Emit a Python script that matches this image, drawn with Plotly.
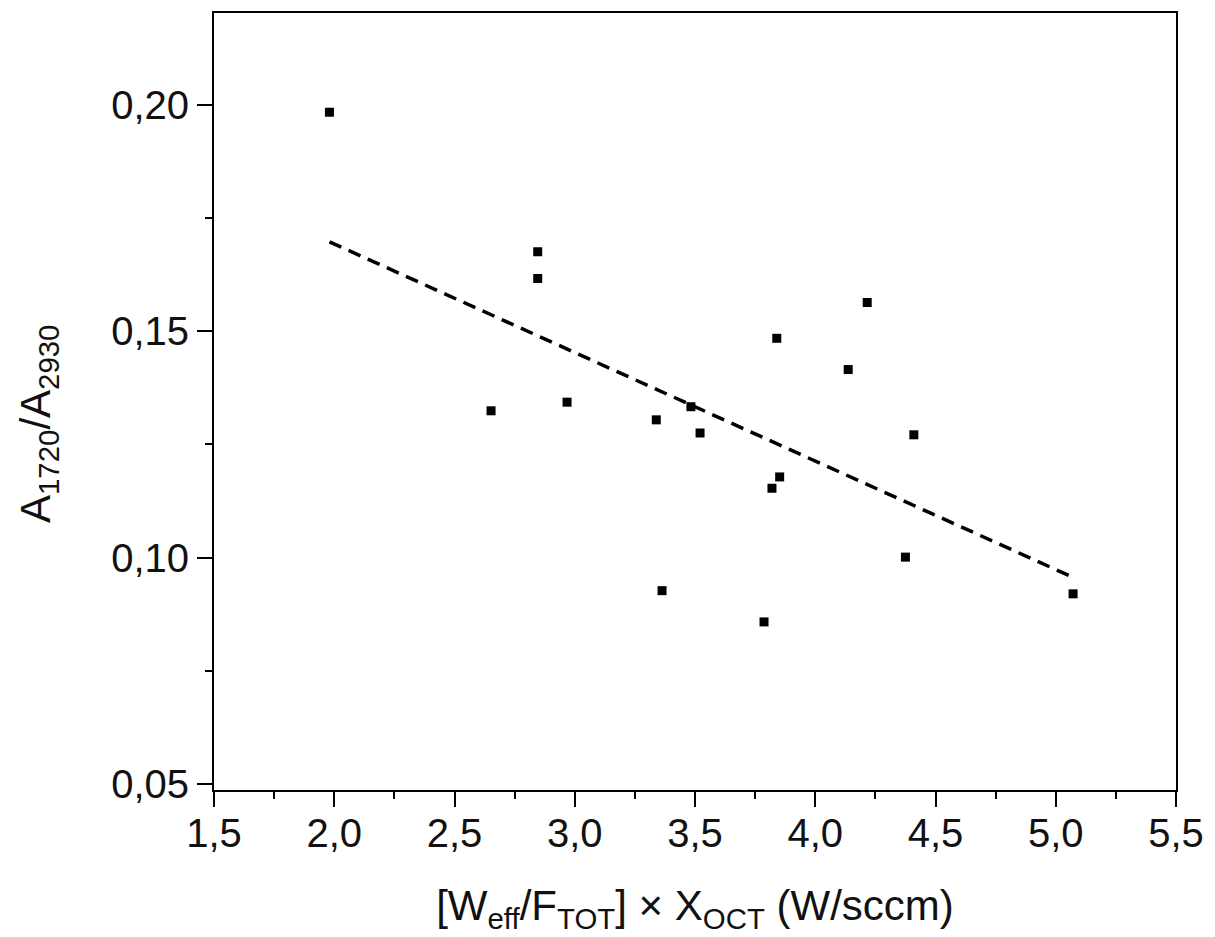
import plotly.graph_objects as go

# Data
x_vals = [1.980, 2.846, 2.846, 2.652, 2.968, 3.339, 3.483, 3.521, 3.363,
          3.787, 3.820, 3.852, 3.840, 4.137, 4.216, 4.410, 4.375, 5.072]
y_vals = [0.1983, 0.1675, 0.1616, 0.1324, 0.1343, 0.1304, 0.1333, 0.1275, 0.0927,
          0.0858, 0.1153, 0.1178, 0.1484, 0.1415, 0.1563, 0.1271, 0.1001, 0.0920]

# Linear fit line endpoints
fit_x = [1.980, 5.065]
fit_y = [0.1697, 0.0958]

x_range = [1.5, 5.5]
y_range = [0.0487, 0.2202]

x_title = "[W<sub>eff</sub>/F<sub>TOT</sub>] × X<sub>OCT</sub> (W/sccm)"
y_title = "A<sub>1720</sub>/A<sub>2930</sub>"

FONT = "Liberation Sans, Arial, sans-serif"
TXT = "#111111"

fig = go.Figure()
fig.add_trace(go.Scatter(
    x=fit_x, y=fit_y, mode="lines",
    line=dict(color="black", width=3.5, dash="13px,8px"),
    showlegend=False, hoverinfo="skip"))
fig.add_trace(go.Scatter(
    x=x_vals, y=y_vals, mode="markers",
    marker=dict(symbol="square", size=9, color="black", line=dict(width=0)),
    showlegend=False))

axis_common = dict(
    showline=True, linecolor="black", linewidth=2, mirror=True,
    showgrid=False, zeroline=False,
    ticks="outside", ticklen=15, tickwidth=2, tickcolor="black",
    tickfont=dict(family=FONT, size=40, color=TXT),
)

fig.update_xaxes(
    range=x_range, dtick=0.5, tick0=1.5, tickformat=".1f",
    ticklabelstandoff=-8,
    minor=dict(ticks="outside", ticklen=7, tickwidth=2, tickcolor="black",
               dtick=0.25, tick0=1.5, showgrid=False),
    title=dict(text=x_title, font=dict(family=FONT, size=42, color=TXT), standoff=37),
    **axis_common)
fig.update_yaxes(
    range=y_range, dtick=0.05, tick0=0.05, tickformat=".2f",
    minor=dict(ticks="outside", ticklen=7, tickwidth=2, tickcolor="black",
               dtick=0.025, tick0=0.05, showgrid=False),
    **axis_common)

fig.add_annotation(
    text=y_title, textangle=-90, showarrow=False,
    xref="paper", yref="paper", x=-0.1824, y=0.4704,
    xanchor="center", yanchor="middle",
    font=dict(family=FONT, size=42, color=TXT))

fig.update_layout(
    width=1215, height=937,
    margin=dict(l=206, r=47, t=5, b=155, autoexpand=False),
    paper_bgcolor="white", plot_bgcolor="white",
    separators=", ",
    font=dict(family=FONT, color=TXT),
)

fig.write_html("out.html")
